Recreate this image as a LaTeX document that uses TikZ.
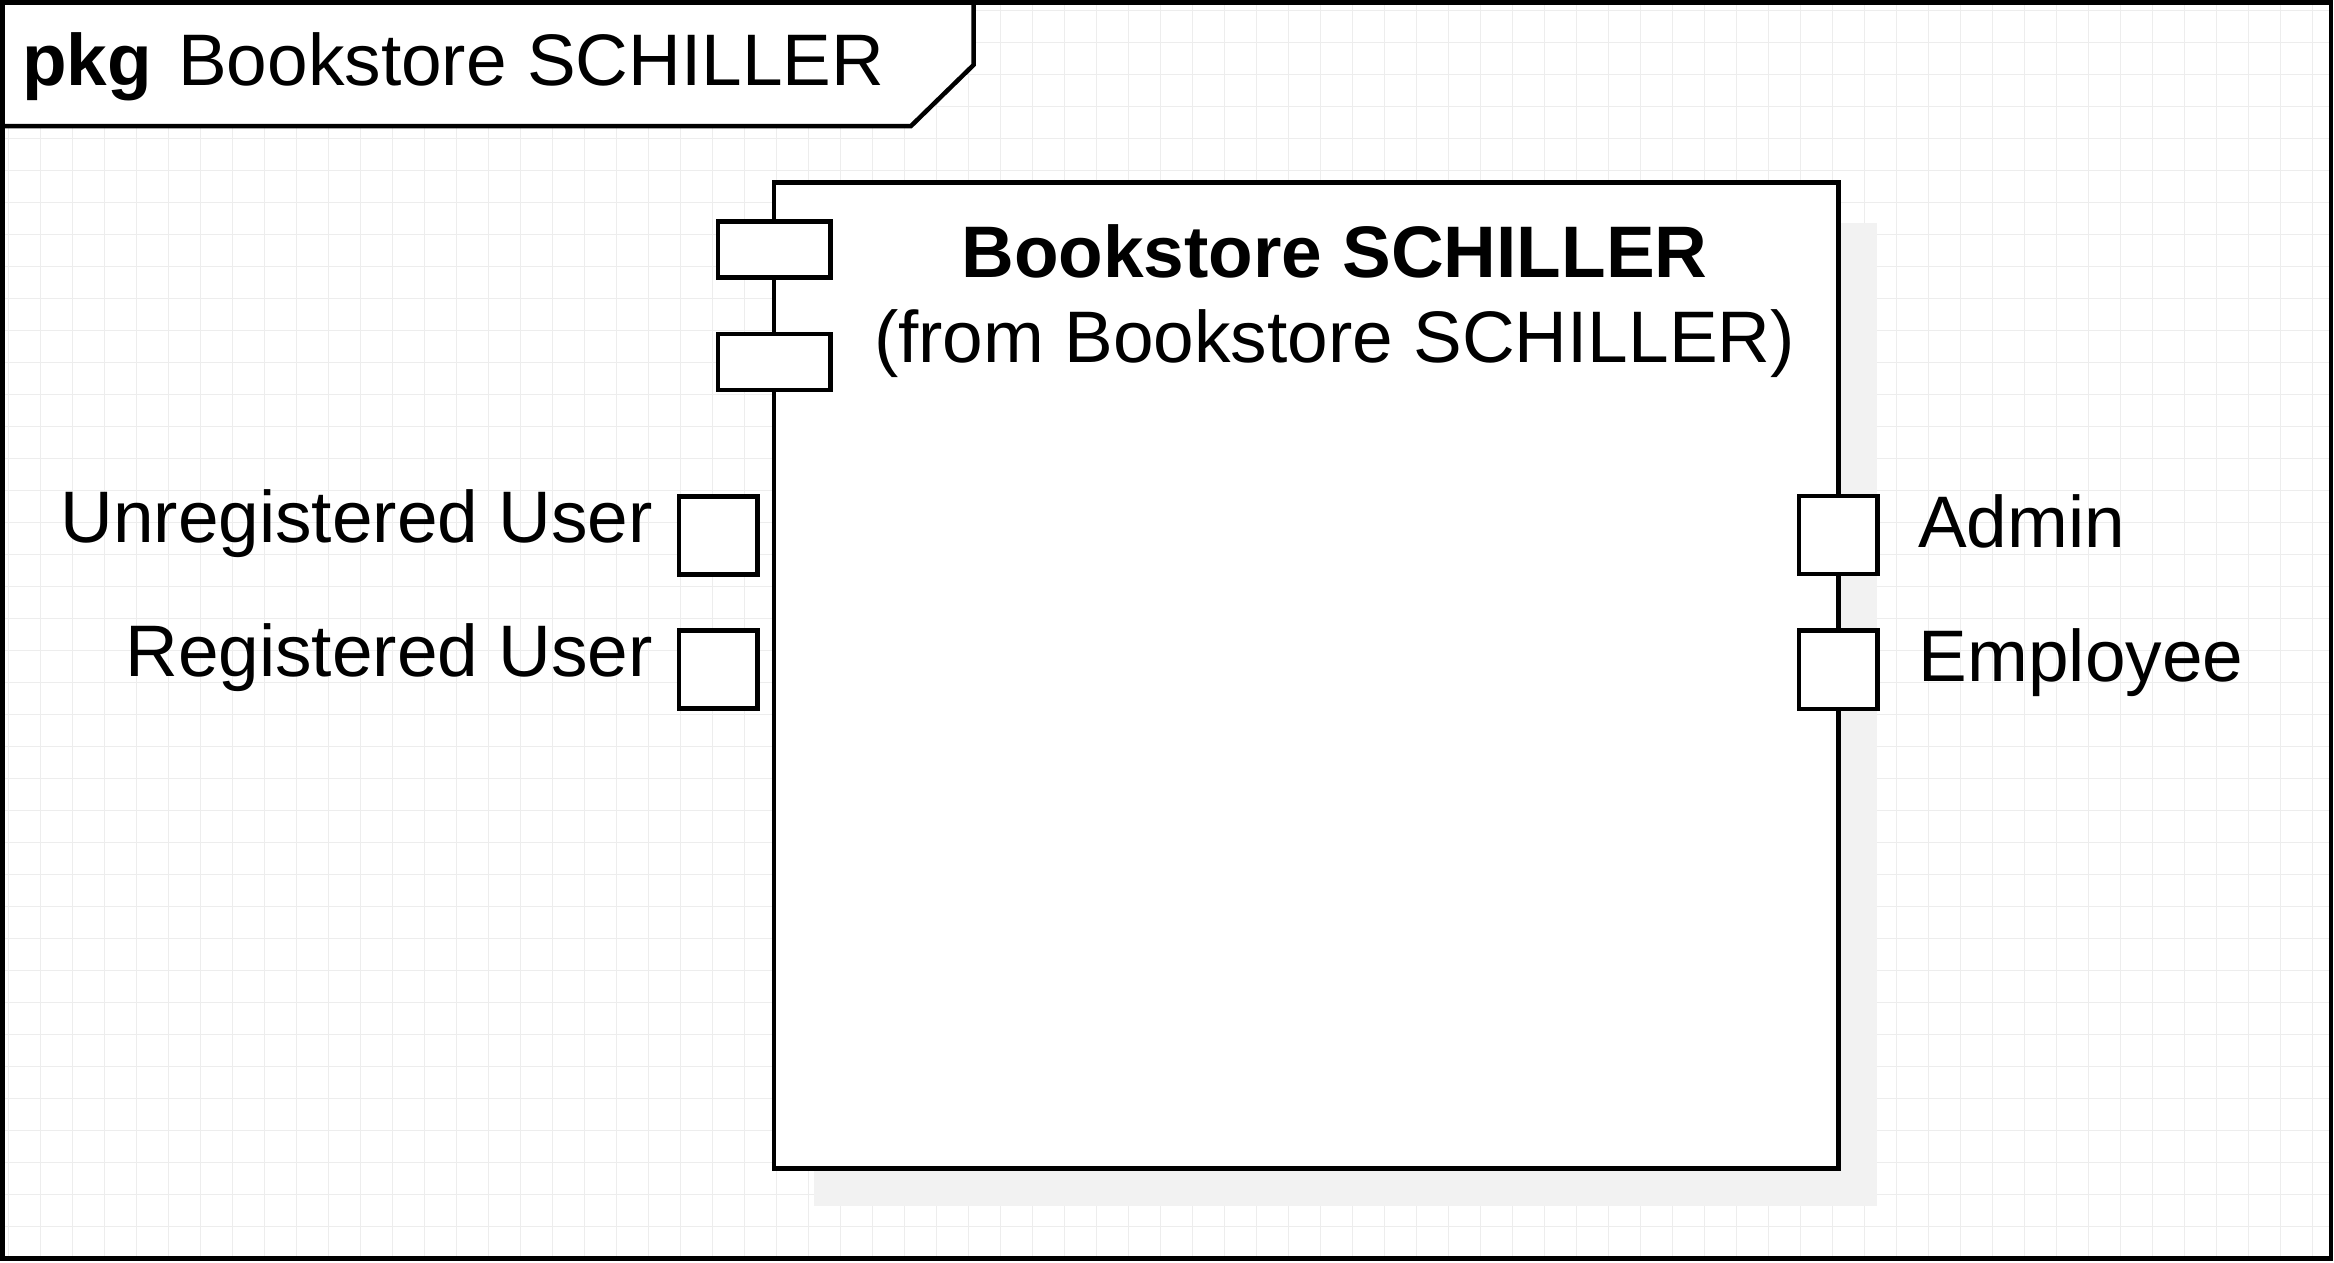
\documentclass[tikz,border=0pt]{standalone}
\usepackage{fontspec}
\setmainfont{Liberation Sans}
\begin{document}
\begin{tikzpicture}[x=1pt,y=-1pt,
  outline/.style={draw=black,line width=4.5pt,line join=miter},
  portbox/.style={outline,fill=white},
  gridline/.style={draw=black!7,line width=1.2pt},
  lbl/.style={inner sep=0pt,font=\fontsize{73}{87}\selectfont}]
\useasboundingbox (0,0) rectangle (2334,1262);
% frame background
\fill[white] (0,0) rectangle (2334,1262);
% grid
\foreach \k in {0,...,72} {\draw[gridline] ({8.67+32*\k},3) -- ({8.67+32*\k},1257);}
\foreach \k in {0,...,38} {\draw[gridline] (3,{10.33+32*\k}) -- (2330,{10.33+32*\k});}
% outer frame
\draw[outline] (2.5,2.5) rectangle (2331,1258.5);
% tab
\draw[outline,fill=white] (2.5,2.5) -- (973.5,2.5) -- (973.5,65) -- (911,126) -- (2.5,126) -- cycle;
\node[lbl,anchor=base west,font=\fontsize{73}{87}\selectfont\bfseries] (pkg) at (22,85) {pkg};
\node[lbl,anchor=base west] (pkgname) at (178,85) {Bookstore SCHILLER};
% shadow
\fill[black!5] (814,223) rectangle (1877,1206);
% component box
\draw[outline,fill=white] (774,182.7) rectangle (1838.3,1168.5);
\node[lbl,anchor=base,font=\fontsize{73}{87}\selectfont\bfseries] (title) at (1334.5,277) {Bookstore SCHILLER};
\node[lbl,anchor=base] (from) at (1334.5,362) {(from Bookstore SCHILLER)};
% top-left ports
\draw[portbox] (718,221.7) rectangle (830.3,277.7);
\draw[portbox] (718,334) rectangle (830.3,390);
% left ports
\draw[portbox] (679,496.7) rectangle (757.3,574.3);
\draw[portbox] (679,630.7) rectangle (757.3,708.7);
% right ports
\draw[portbox] (1799,496) rectangle (1877.7,574);
\draw[portbox] (1799,630.3) rectangle (1877.7,709);
% labels
\node[lbl,anchor=base east] (unreg) at (653,542) {Unregistered User};
\node[lbl,anchor=base east] (reg) at (653,676) {Registered User};
\node[lbl,anchor=base west] (admin) at (1918,547.7) {Admin};
\node[lbl,anchor=base west] (emp) at (1918.5,681.7) {Employee};
\end{tikzpicture}
\end{document}
